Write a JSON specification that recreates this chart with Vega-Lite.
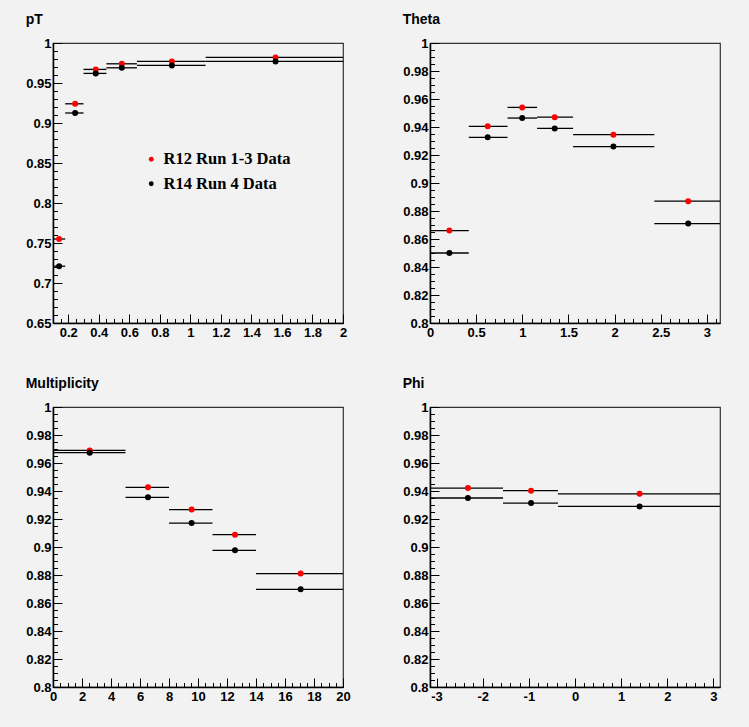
{
  "$schema": "https://vega.github.io/schema/vega-lite/v6.json",
  "background": "#f2f2f2",
  "padding": {"left": 25, "top": 12, "right": 29, "bottom": 25},
  "datasets": {
    "eff": [
      {"panel": "pT", "series": "R12 Run 1-3 Data", "x": 0.14, "xlo": 0.1, "xhi": 0.18, "y": 0.755},
      {"panel": "pT", "series": "R12 Run 1-3 Data", "x": 0.245, "xlo": 0.18, "xhi": 0.3, "y": 0.924},
      {"panel": "pT", "series": "R12 Run 1-3 Data", "x": 0.38, "xlo": 0.3, "xhi": 0.45, "y": 0.967},
      {"panel": "pT", "series": "R12 Run 1-3 Data", "x": 0.551, "xlo": 0.45, "xhi": 0.65, "y": 0.974},
      {"panel": "pT", "series": "R12 Run 1-3 Data", "x": 0.879, "xlo": 0.65, "xhi": 1.1, "y": 0.977},
      {"panel": "pT", "series": "R12 Run 1-3 Data", "x": 1.558, "xlo": 1.1, "xhi": 2.0, "y": 0.982},
      {"panel": "pT", "series": "R14 Run 4 Data", "x": 0.14, "xlo": 0.1, "xhi": 0.18, "y": 0.721},
      {"panel": "pT", "series": "R14 Run 4 Data", "x": 0.245, "xlo": 0.18, "xhi": 0.3, "y": 0.9125},
      {"panel": "pT", "series": "R14 Run 4 Data", "x": 0.38, "xlo": 0.3, "xhi": 0.45, "y": 0.962},
      {"panel": "pT", "series": "R14 Run 4 Data", "x": 0.551, "xlo": 0.45, "xhi": 0.65, "y": 0.969},
      {"panel": "pT", "series": "R14 Run 4 Data", "x": 0.879, "xlo": 0.65, "xhi": 1.1, "y": 0.972},
      {"panel": "pT", "series": "R14 Run 4 Data", "x": 1.558, "xlo": 1.1, "xhi": 2.0, "y": 0.977},
      {"panel": "Theta", "series": "R12 Run 1-3 Data", "x": 0.21, "xlo": 0.0, "xhi": 0.42, "y": 0.866},
      {"panel": "Theta", "series": "R12 Run 1-3 Data", "x": 0.625, "xlo": 0.42, "xhi": 0.84, "y": 0.9405},
      {"panel": "Theta", "series": "R12 Run 1-3 Data", "x": 0.999, "xlo": 0.84, "xhi": 1.16, "y": 0.954},
      {"panel": "Theta", "series": "R12 Run 1-3 Data", "x": 1.351, "xlo": 1.16, "xhi": 1.55, "y": 0.947},
      {"panel": "Theta", "series": "R12 Run 1-3 Data", "x": 1.987, "xlo": 1.55, "xhi": 2.43, "y": 0.9345},
      {"panel": "Theta", "series": "R12 Run 1-3 Data", "x": 2.797, "xlo": 2.43, "xhi": 3.1416, "y": 0.887},
      {"panel": "Theta", "series": "R14 Run 4 Data", "x": 0.21, "xlo": 0.0, "xhi": 0.42, "y": 0.850},
      {"panel": "Theta", "series": "R14 Run 4 Data", "x": 0.625, "xlo": 0.42, "xhi": 0.84, "y": 0.9326},
      {"panel": "Theta", "series": "R14 Run 4 Data", "x": 0.999, "xlo": 0.84, "xhi": 1.16, "y": 0.9464},
      {"panel": "Theta", "series": "R14 Run 4 Data", "x": 1.351, "xlo": 1.16, "xhi": 1.55, "y": 0.939},
      {"panel": "Theta", "series": "R14 Run 4 Data", "x": 1.987, "xlo": 1.55, "xhi": 2.43, "y": 0.926},
      {"panel": "Theta", "series": "R14 Run 4 Data", "x": 2.797, "xlo": 2.43, "xhi": 3.1416, "y": 0.871},
      {"panel": "Multiplicity", "series": "R12 Run 1-3 Data", "x": 2.53, "xlo": 0, "xhi": 5, "y": 0.969},
      {"panel": "Multiplicity", "series": "R12 Run 1-3 Data", "x": 6.55, "xlo": 5, "xhi": 8, "y": 0.9426},
      {"panel": "Multiplicity", "series": "R12 Run 1-3 Data", "x": 9.56, "xlo": 8, "xhi": 11, "y": 0.9267},
      {"panel": "Multiplicity", "series": "R12 Run 1-3 Data", "x": 12.55, "xlo": 11, "xhi": 14, "y": 0.9088},
      {"panel": "Multiplicity", "series": "R12 Run 1-3 Data", "x": 17.08, "xlo": 14, "xhi": 20, "y": 0.881},
      {"panel": "Multiplicity", "series": "R14 Run 4 Data", "x": 2.53, "xlo": 0, "xhi": 5, "y": 0.9674},
      {"panel": "Multiplicity", "series": "R14 Run 4 Data", "x": 6.55, "xlo": 5, "xhi": 8, "y": 0.9355},
      {"panel": "Multiplicity", "series": "R14 Run 4 Data", "x": 9.56, "xlo": 8, "xhi": 11, "y": 0.9171},
      {"panel": "Multiplicity", "series": "R14 Run 4 Data", "x": 12.55, "xlo": 11, "xhi": 14, "y": 0.8976},
      {"panel": "Multiplicity", "series": "R14 Run 4 Data", "x": 17.08, "xlo": 14, "xhi": 20, "y": 0.8698},
      {"panel": "Phi", "series": "R12 Run 1-3 Data", "x": -2.32, "xlo": -3.1416, "xhi": -1.56, "y": 0.9421},
      {"panel": "Phi", "series": "R12 Run 1-3 Data", "x": -0.952, "xlo": -1.56, "xhi": -0.37, "y": 0.9402},
      {"panel": "Phi", "series": "R12 Run 1-3 Data", "x": 1.399, "xlo": -0.37, "xhi": 3.1416, "y": 0.938},
      {"panel": "Phi", "series": "R14 Run 4 Data", "x": -2.32, "xlo": -3.1416, "xhi": -1.56, "y": 0.935},
      {"panel": "Phi", "series": "R14 Run 4 Data", "x": -0.952, "xlo": -1.56, "xhi": -0.37, "y": 0.9314},
      {"panel": "Phi", "series": "R14 Run 4 Data", "x": 1.399, "xlo": -0.37, "xhi": 3.1416, "y": 0.929}
    ]
  },
  "data": {"name": "eff"},
  "columns": 2,
  "spacing": {"row": 36, "column": 51},
  "resolve": {"legend": {"color": "independent"}},
  "concat": [
    {
      "width": 290, "height": 280,
      "title": {"text": "pT"},
      "transform": [{"filter": "datum.panel === 'pT'"}],
      "layer": [
        {
          "mark": {"type": "rule", "color": "#000", "strokeWidth": 1.3},
          "encoding": {
            "x": {"field": "xlo", "type": "quantitative", "scale": {"domain": [0.1, 2], "nice": false, "zero": false},
                  "axis": {"orient": "bottom", "values": [0.2, 0.4, 0.6, 0.8, 1, 1.2, 1.4, 1.6, 1.8, 2], "format": ".1~f", "labelPadding": 12}},
            "x2": {"field": "xhi"},
            "y": {"field": "y", "type": "quantitative", "scale": {"domain": [0.65, 1], "nice": false, "zero": false},
                  "axis": {"orient": "left", "values": [0.65, 0.7, 0.75, 0.8, 0.85, 0.9, 0.95, 1], "format": ".2~f", "labelPadding": 11}}
          }
        },
        {
          "mark": {"type": "point", "filled": true, "size": 36, "opacity": 1, "shape": "circle"},
          "encoding": {
            "x": {"field": "x", "type": "quantitative", "axis": null},
            "y": {"field": "y", "type": "quantitative", "axis": null},
            "color": {"field": "series", "type": "nominal",
                      "scale": {"domain": ["R12 Run 1-3 Data", "R14 Run 4 Data"], "range": ["#ff0000", "#000000"]},
                      "legend": {"orient": "none", "legendX": 90, "legendY": 108, "title": null, "padding": 0,
                                 "labelFont": "Liberation Serif", "labelFontWeight": "bold", "labelFontSize": 16.5, "labelColor": "#000",
                                 "symbolType": "circle", "symbolSize": 24, "symbolStrokeWidth": 0, "rowPadding": 7.5, "labelOffset": 4}}
          }
        },
        {
          "mark": {"type": "point", "opacity": 0},
          "encoding": {
            "x": {"field": "x", "type": "quantitative", "axis": {"orient": "bottom", "tickCount": 38, "labels": false, "domain": false, "tickSize": -4.5}},
            "y": {"field": "y", "type": "quantitative", "axis": {"orient": "left", "tickCount": 35, "labels": false, "domain": false, "tickSize": -4.5}}
          }
        }
      ],
      "resolve": {"axis": {"x": "independent", "y": "independent"}}
    },
    {
      "width": 290, "height": 280,
      "title": {"text": "Theta"},
      "transform": [{"filter": "datum.panel === 'Theta'"}],
      "layer": [
        {
          "mark": {"type": "rule", "color": "#000", "strokeWidth": 1.3},
          "encoding": {
            "x": {"field": "xlo", "type": "quantitative", "scale": {"domain": [0, 3.1416], "nice": false, "zero": false},
                  "axis": {"orient": "bottom", "values": [0, 0.5, 1, 1.5, 2, 2.5, 3], "format": ".1~f", "labelPadding": 12}},
            "x2": {"field": "xhi"},
            "y": {"field": "y", "type": "quantitative", "scale": {"domain": [0.8, 1], "nice": false, "zero": false},
                  "axis": {"orient": "left", "values": [0.8, 0.82, 0.84, 0.86, 0.88, 0.9, 0.92, 0.94, 0.96, 0.98, 1], "format": ".2~f", "labelPadding": 11}}
          }
        },
        {
          "mark": {"type": "point", "filled": true, "size": 36, "opacity": 1, "shape": "circle"},
          "encoding": {
            "x": {"field": "x", "type": "quantitative", "axis": null},
            "y": {"field": "y", "type": "quantitative", "axis": null},
            "color": {"field": "series", "type": "nominal",
                      "scale": {"domain": ["R12 Run 1-3 Data", "R14 Run 4 Data"], "range": ["#ff0000", "#000000"]},
                      "legend": null}
          }
        },
        {
          "mark": {"type": "point", "opacity": 0},
          "encoding": {
            "x": {"field": "x", "type": "quantitative", "axis": {"orient": "bottom", "tickCount": 31, "labels": false, "domain": false, "tickSize": -4.5}},
            "y": {"field": "y", "type": "quantitative", "axis": {"orient": "left", "tickCount": 40, "labels": false, "domain": false, "tickSize": -4.5}}
          }
        }
      ],
      "resolve": {"axis": {"x": "independent", "y": "independent"}}
    },
    {
      "width": 290, "height": 280,
      "title": {"text": "Multiplicity"},
      "transform": [{"filter": "datum.panel === 'Multiplicity'"}],
      "layer": [
        {
          "mark": {"type": "rule", "color": "#000", "strokeWidth": 1.3},
          "encoding": {
            "x": {"field": "xlo", "type": "quantitative", "scale": {"domain": [0, 20], "nice": false, "zero": false},
                  "axis": {"orient": "bottom", "values": [0, 2, 4, 6, 8, 10, 12, 14, 16, 18, 20], "format": "d", "labelPadding": 12}},
            "x2": {"field": "xhi"},
            "y": {"field": "y", "type": "quantitative", "scale": {"domain": [0.8, 1], "nice": false, "zero": false},
                  "axis": {"orient": "left", "values": [0.8, 0.82, 0.84, 0.86, 0.88, 0.9, 0.92, 0.94, 0.96, 0.98, 1], "format": ".2~f", "labelPadding": 11}}
          }
        },
        {
          "mark": {"type": "point", "filled": true, "size": 36, "opacity": 1, "shape": "circle"},
          "encoding": {
            "x": {"field": "x", "type": "quantitative", "axis": null},
            "y": {"field": "y", "type": "quantitative", "axis": null},
            "color": {"field": "series", "type": "nominal",
                      "scale": {"domain": ["R12 Run 1-3 Data", "R14 Run 4 Data"], "range": ["#ff0000", "#000000"]},
                      "legend": null}
          }
        },
        {
          "mark": {"type": "point", "opacity": 0},
          "encoding": {
            "x": {"field": "x", "type": "quantitative", "axis": {"orient": "bottom", "tickCount": 40, "labels": false, "domain": false, "tickSize": -4.5}},
            "y": {"field": "y", "type": "quantitative", "axis": {"orient": "left", "tickCount": 40, "labels": false, "domain": false, "tickSize": -4.5}}
          }
        }
      ],
      "resolve": {"axis": {"x": "independent", "y": "independent"}}
    },
    {
      "width": 290, "height": 280,
      "title": {"text": "Phi"},
      "transform": [{"filter": "datum.panel === 'Phi'"}],
      "layer": [
        {
          "mark": {"type": "rule", "color": "#000", "strokeWidth": 1.3},
          "encoding": {
            "x": {"field": "xlo", "type": "quantitative", "scale": {"domain": [-3.1416, 3.1416], "nice": false, "zero": false},
                  "axis": {"orient": "bottom", "values": [-3, -2, -1, 0, 1, 2, 3], "labelExpr": "'' + datum.value", "labelPadding": 12}},
            "x2": {"field": "xhi"},
            "y": {"field": "y", "type": "quantitative", "scale": {"domain": [0.8, 1], "nice": false, "zero": false},
                  "axis": {"orient": "left", "values": [0.8, 0.82, 0.84, 0.86, 0.88, 0.9, 0.92, 0.94, 0.96, 0.98, 1], "format": ".2~f", "labelPadding": 11}}
          }
        },
        {
          "mark": {"type": "point", "filled": true, "size": 36, "opacity": 1, "shape": "circle"},
          "encoding": {
            "x": {"field": "x", "type": "quantitative", "axis": null},
            "y": {"field": "y", "type": "quantitative", "axis": null},
            "color": {"field": "series", "type": "nominal",
                      "scale": {"domain": ["R12 Run 1-3 Data", "R14 Run 4 Data"], "range": ["#ff0000", "#000000"]},
                      "legend": null}
          }
        },
        {
          "mark": {"type": "point", "opacity": 0},
          "encoding": {
            "x": {"field": "x", "type": "quantitative", "axis": {"orient": "bottom", "tickCount": 31, "labels": false, "domain": false, "tickSize": -4.5}},
            "y": {"field": "y", "type": "quantitative", "axis": {"orient": "left", "tickCount": 40, "labels": false, "domain": false, "tickSize": -4.5}}
          }
        }
      ],
      "resolve": {"axis": {"x": "independent", "y": "independent"}}
    }
  ],
  "config": {
    "view": {"stroke": "#333", "strokeWidth": 1.2, "fill": null},
    "axis": {
      "title": null, "grid": false,
      "domainColor": "#000", "domainWidth": 1.5,
      "tickColor": "#000", "tickWidth": 1, "tickSize": -9,
      "labelFont": "Liberation Sans", "labelFontWeight": "bold", "labelFontSize": 13, "labelColor": "#000",
      "labelPadding": 2, "labelFlush": false, "labelOverlap": false, "labelBound": false
    },
    "title": {"anchor": "start", "frame": "bounds", "offset": 10, "font": "Liberation Sans", "fontSize": 14, "fontWeight": "bold", "color": "#000"}
  }
}
